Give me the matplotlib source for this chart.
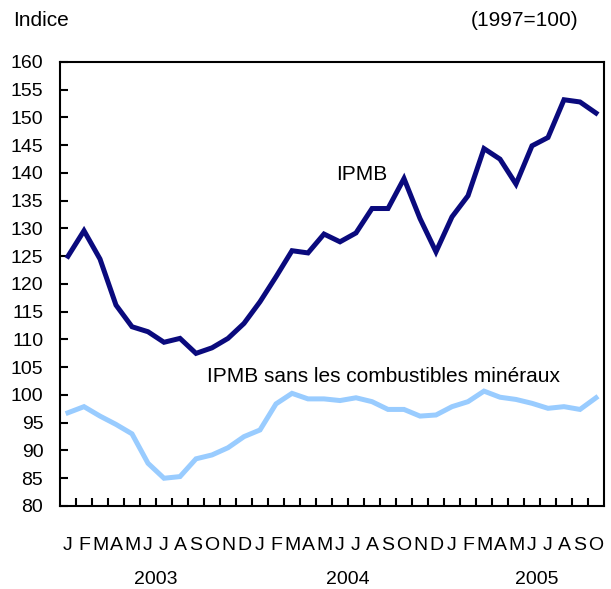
import matplotlib
matplotlib.use("Agg")
import matplotlib.pyplot as plt
import numpy as np

plt.rcParams['font.family'] = ['Liberation Sans', 'DejaVu Sans']

months = ["J", "F", "M", "A", "M", "J", "J", "A", "S", "O", "N", "D",
          "J", "F", "M", "A", "M", "J", "J", "A", "S", "O", "N", "D",
          "J", "F", "M", "A", "M", "J", "J", "A", "S", "O"]
years = ["2003", "2004", "2005"]

ipmb = [125.0, 129.6, 124.5, 116.2, 112.3, 111.4, 109.5, 110.2, 107.5, 108.5, 110.2, 112.9,
        116.8, 121.3, 126.0, 125.6, 129.0, 127.6, 129.2, 133.6, 133.6, 139.0, 131.8, 125.8,
        132.1, 135.9, 144.4, 142.5, 138.0, 144.9, 146.4, 153.2, 152.8, 150.8]

ipmb_sans = [96.8, 97.9, 96.2, 94.7, 93.0, 87.7, 85.0, 85.3, 88.5, 89.2, 90.5, 92.5,
             93.7, 98.4, 100.3, 99.3, 99.3, 99.0, 99.5, 98.8, 97.4, 97.4, 96.2, 96.4,
             97.9, 98.8, 100.7, 99.6, 99.2, 98.5, 97.6, 97.9, 97.4, 99.5]

x = np.arange(len(months))
FS = 14
FT = 15

fig = plt.figure(figsize=(6.11, 5.89), dpi=100)
ax = fig.add_axes([60/611, 1-506/589, 544/611, 444/589])

ax.plot(x, ipmb, color='#0a0a7d', lw=3.6, solid_joinstyle='miter')
ax.plot(x, ipmb_sans, color='#99ccff', lw=3.6, solid_joinstyle='miter')

ax.set_xlim(-0.5, len(months) - 0.5)
ax.set_ylim(80, 160)
ax.set_yticks(np.arange(80, 161, 5))
ax.tick_params(axis='y', direction='in', length=6, width=1.5, labelsize=FS, pad=12)

ax.set_xticks(x[:-1] + 0.5)
ax.set_xticklabels([])
ax.tick_params(axis='x', direction='in', length=6, width=1.5)
ax.set_xticks(x, minor=True)
ax.set_xticklabels(months, minor=True)
ax.tick_params(axis='x', which='minor', length=0, labelsize=FS, pad=22)

for s in ax.spines.values():
    s.set_linewidth(1.5)

# year labels
for yr, pos in zip(years, [5.5, 17.5, 29.3]):
    ax.text(pos, -0.166, yr, transform=ax.get_xaxis_transform(),
            ha='center', va='center', fontsize=FS)

fig.text(13/611, 1-21/589, "Indice", ha='left', va='center', fontsize=FT)
fig.text(578/611, 1-21/589, "(1997=100)", ha='right', va='center', fontsize=FT)

fig.text(362/611, 1-175/589, "IPMB", ha='center', va='center', fontsize=FT)
fig.text(207/611, 1-377/589, "IPMB sans les combustibles minéraux",
         ha='left', va='center', fontsize=FT)

fig.savefig("out.png", dpi=100)
